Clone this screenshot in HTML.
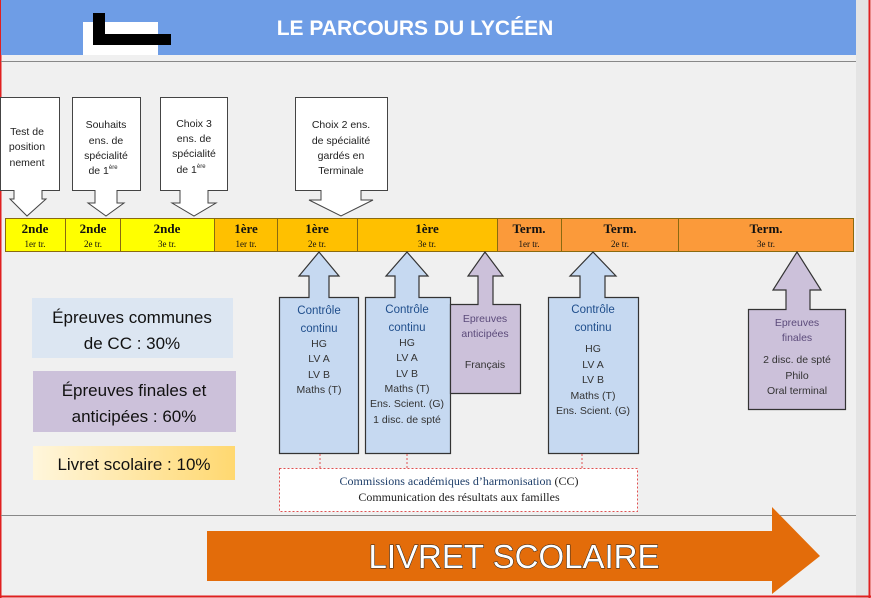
<!DOCTYPE html>
<html><head><meta charset="utf-8"><style>
html,body{margin:0;padding:0;background:#f0f0f0;}
svg{display:block;}
text{font-family:"Liberation Sans",sans-serif;}
.s{font-family:"Liberation Serif",serif;}
</style></head><body>
<svg width="871" height="598" viewBox="0 0 871 598" xmlns="http://www.w3.org/2000/svg">
<rect x="0" y="0" width="871" height="598" fill="#f0f0f0"/>
<rect x="856" y="0" width="13" height="598" fill="#e4e4e4"/>
<line x1="869.5" y1="0" x2="869.5" y2="598" stroke="#e02020" stroke-width="2"/>
<line x1="0.5" y1="0" x2="0.5" y2="598" stroke="#e02020" stroke-width="2"/>
<line x1="0" y1="596.5" x2="871" y2="596.5" stroke="#e02020" stroke-width="2"/>
<!-- header -->
<rect x="1" y="0" width="855" height="55" fill="#6e9de6"/>
<rect x="83" y="22" width="75" height="33" fill="#fff"/>
<rect x="93" y="13" width="12" height="32" fill="#000"/>
<rect x="93" y="34" width="78" height="11" fill="#000"/>
<text x="415" y="35" font-size="21" font-weight="bold" fill="#fff" text-anchor="middle">LE PARCOURS DU LYCÉEN</text>
<line x1="1" y1="61.5" x2="856" y2="61.5" stroke="#888" stroke-width="1"/>

<!-- down callouts -->
<g fill="#fff" stroke="#444" stroke-width="1">
<path d="M0.5,97.5 H59.5 V190.5 H42 V199 H46 L27,216 L10,199 H14 V190.5 H0.5Z"/>
<path d="M72.5,97.5 H140.5 V190.5 H117 V203 H124 L106,216 L88,203 H95 V190.5 H72.5Z"/>
<path d="M160.5,97.5 H227.5 V190.5 H208 V203 H216 L194,216 L172,203 H180 V190.5 H160.5Z"/>
<path d="M295.5,97.5 H387.5 V190.5 H361 V200 H373 L341,216 L309,200 H321 V190.5 H295.5Z"/>
</g>
<g font-size="10.5" fill="#222" text-anchor="middle">
<text x="27" y="135">Test de</text><text x="27" y="150">position</text><text x="27" y="166">nement</text>
<text x="106" y="128">Souhaits</text><text x="106" y="144">ens. de</text><text x="106" y="159">spécialité</text><text x="103" y="174">de 1<tspan font-size="6" dy="-5">ère</tspan></text>
<text x="194" y="127">Choix 3</text><text x="194" y="142">ens. de</text><text x="194" y="157">spécialité</text><text x="191" y="173">de 1<tspan font-size="6" dy="-5">ère</tspan></text>
<text x="341" y="128">Choix 2 ens.</text><text x="341" y="144">de spécialité</text><text x="341" y="159">gardés en</text><text x="341" y="174">Terminale</text>
</g>

<!-- timeline -->
<g stroke="#8a6a10" stroke-width="1">
<rect x="5.5" y="218.5" width="60" height="33" fill="#ffff00"/>
<rect x="65.5" y="218.5" width="55" height="33" fill="#ffff00"/>
<rect x="120.5" y="218.5" width="94" height="33" fill="#ffff00"/>
<rect x="214.5" y="218.5" width="63" height="33" fill="#ffc000"/>
<rect x="277.5" y="218.5" width="80" height="33" fill="#ffc000"/>
<rect x="357.5" y="218.5" width="140" height="33" fill="#ffc000"/>
<rect x="497.5" y="218.5" width="64" height="33" fill="#fb9a3a"/>
<rect x="561.5" y="218.5" width="117" height="33" fill="#fb9a3a"/>
<rect x="678.5" y="218.5" width="175" height="33" fill="#fb9a3a"/>
</g>
<g class="s" text-anchor="middle" fill="#111">
<g font-size="13" font-weight="bold">
<text class="s" x="35" y="233">2nde</text><text class="s" x="93" y="233">2nde</text><text class="s" x="167" y="233">2nde</text>
<text class="s" x="246" y="233">1ère</text><text class="s" x="317" y="233">1ère</text><text class="s" x="427" y="233">1ère</text>
<text class="s" x="529" y="233">Term.</text><text class="s" x="620" y="233">Term.</text><text class="s" x="766" y="233">Term.</text>
</g>
<g font-size="9">
<text class="s" x="35" y="247">1er tr.</text><text class="s" x="93" y="247">2e tr.</text><text class="s" x="167" y="247">3e tr.</text>
<text class="s" x="246" y="247">1er tr.</text><text class="s" x="317" y="247">2e tr.</text><text class="s" x="427" y="247">3e tr.</text>
<text class="s" x="529" y="247">1er tr.</text><text class="s" x="620" y="247">2e tr.</text><text class="s" x="766" y="247">3e tr.</text>
</g>
</g>

<!-- up arrow boxes -->
<g stroke="#333" stroke-width="1.2">
<path d="M279.5,297.5 H309 V276 H299 L319,252 L339,276 H329 V297.5 H358.5 V453.5 H279.5Z" fill="#c6d9f1"/>
<path d="M365.5,297.5 H395 V276 H386 L407,252 L428,276 H419 V297.5 H450.5 V453.5 H365.5Z" fill="#c6d9f1"/>
<path d="M450.5,304.5 H478 V276 H468 L485,252 L503,276 H493 V304.5 H520.5 V393.5 H450.5Z" fill="#ccc1da"/>
<path d="M548.5,297.5 H580 V276 H570 L593,252 L616,276 H605 V297.5 H638.5 V453.5 H548.5Z" fill="#c6d9f1"/>
<path d="M748.5,309.5 H786 V290 H773 L797,252 L821,290 H810 V309.5 H845.5 V409.5 H748.5Z" fill="#ccc1da"/>
</g>
<g font-size="10.5" text-anchor="middle" fill="#333">
<text x="319" y="314" fill="#1f4e8c" font-size="11.5">Contrôle</text><text x="319" y="332" fill="#1f4e8c" font-size="11.5">continu</text>
<text x="319" y="347">HG</text><text x="319" y="362">LV A</text><text x="319" y="378">LV B</text><text x="319" y="393">Maths (T)</text>
<text x="407" y="313" fill="#1f4e8c" font-size="11.5">Contrôle</text><text x="407" y="331" fill="#1f4e8c" font-size="11.5">continu</text>
<text x="407" y="346">HG</text><text x="407" y="361">LV A</text><text x="407" y="377">LV B</text><text x="407" y="392">Maths (T)</text>
<text x="407" y="407">Ens. Scient. (G)</text><text x="407" y="423">1 disc. de  spté</text>
<text x="485" y="322" fill="#5b4a7a">Epreuves</text><text x="485" y="337" fill="#5b4a7a">anticipées</text><text x="485" y="368">Français</text>
<text x="593" y="313" fill="#1f4e8c" font-size="11.5">Contrôle</text><text x="593" y="331" fill="#1f4e8c" font-size="11.5">continu</text>
<text x="593" y="352">HG</text><text x="593" y="368">LV A</text><text x="593" y="383">LV B</text><text x="593" y="399">Maths (T)</text><text x="593" y="414">Ens. Scient. (G)</text>
<text x="797" y="326" fill="#5b4a7a">Epreuves</text><text x="797" y="341" fill="#5b4a7a">finales</text>
<text x="797" y="363">2 disc. de spté</text><text x="797" y="379">Philo</text><text x="797" y="394">Oral terminal</text>
</g>

<!-- dotted -->
<g stroke="#e05050" stroke-width="1" stroke-dasharray="2,2" fill="none">
<line x1="320" y1="454" x2="320" y2="468"/><line x1="407" y1="454" x2="407" y2="468"/><line x1="582" y1="454" x2="582" y2="468"/>
</g>
<rect x="279.5" y="468.5" width="358" height="43" fill="#fff" stroke="#e05050" stroke-dasharray="2,2"/>
<text class="s" x="459" y="485" font-size="12" text-anchor="middle" fill="#1f3f6a">Commissions académiques d’harmonisation <tspan fill="#222">(CC)</tspan></text>
<text class="s" x="459" y="501" font-size="12" text-anchor="middle" fill="#222">Communication des résultats aux familles</text>

<!-- legend -->
<rect x="32" y="298" width="201" height="60" fill="#dce6f2"/>
<text x="132" y="323" font-size="17" text-anchor="middle" fill="#111">Épreuves communes</text>
<text x="132" y="349" font-size="17" text-anchor="middle" fill="#111">de CC : 30%</text>
<rect x="33" y="371" width="203" height="61" fill="#ccc1da"/>
<text x="134" y="396" font-size="17" text-anchor="middle" fill="#111">Épreuves finales et</text>
<text x="134" y="422" font-size="17" text-anchor="middle" fill="#111">anticipées : 60%</text>
<defs><linearGradient id="g" x1="0" x2="1"><stop offset="0" stop-color="#fff6dc"/><stop offset="1" stop-color="#ffd870"/></linearGradient></defs>
<rect x="33" y="446" width="202" height="34" fill="url(#g)"/>
<text x="134" y="470" font-size="17" text-anchor="middle" fill="#111">Livret scolaire : 10%</text>

<line x1="1" y1="515.5" x2="856" y2="515.5" stroke="#888" stroke-width="1"/>
<!-- big arrow -->
<path d="M207,531 H772 V507 L820,556 L772,594 V581 H207Z" fill="#e36c0a"/>
<text x="514" y="568" font-size="33" text-anchor="middle" fill="#fff" stroke="#222" stroke-width="1" paint-order="stroke">LIVRET SCOLAIRE</text>
</svg>
</body></html>
